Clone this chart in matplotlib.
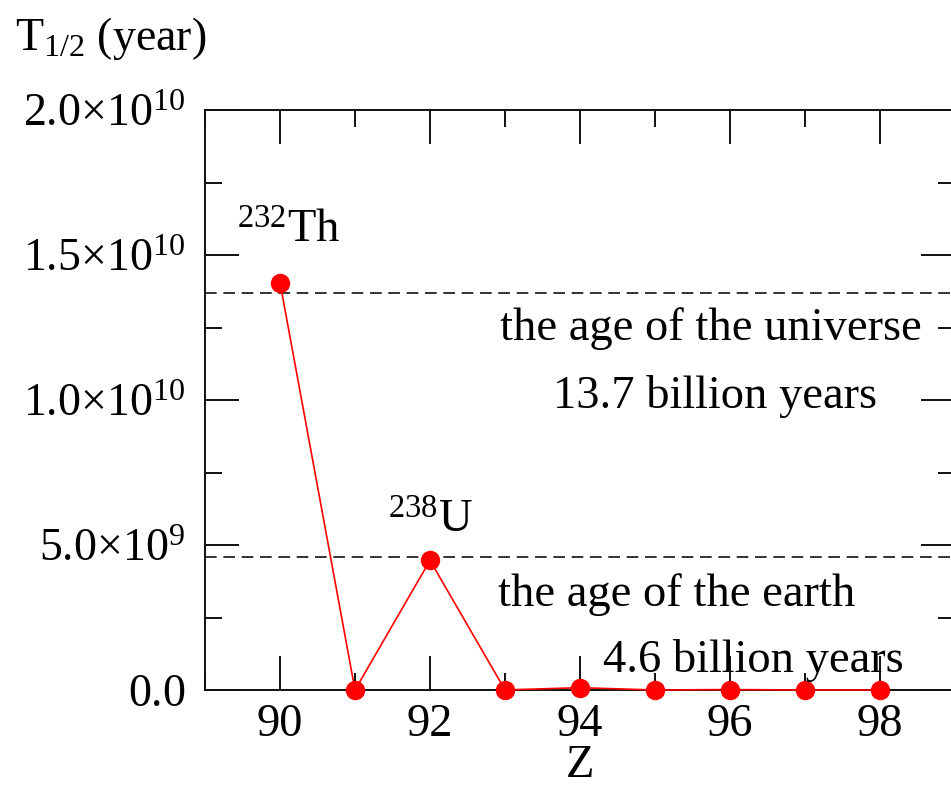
import matplotlib
matplotlib.use("Agg")
import matplotlib.pyplot as plt
from matplotlib.ticker import MultipleLocator, FixedLocator, FixedFormatter

plt.rcParams['font.family'] = ['Liberation Serif', 'DejaVu Serif']
plt.rcParams['mathtext.fontset'] = 'custom'
plt.rcParams['mathtext.rm'] = 'Liberation Serif'
plt.rcParams['mathtext.it'] = 'Liberation Serif:italic'
plt.rcParams['mathtext.bf'] = 'Liberation Serif:bold'

# Data: proton number Z and longest-lived isotope half-life (years)
Z = [90, 91, 92, 93, 94, 95, 96, 97, 98]
half_life = [1.405e10, 3.276e4, 4.468e9, 2.144e6, 8.0e7, 7.37e3, 1.56e7, 1.38e3, 8.98e2]

universe_age = 1.37e10
earth_age = 4.6e9

x_ticks = [90, 92, 94, 96, 98]
x_ticklabels = ['90', '92', '94', '96', '98']
y_ticks = [0.0, 5.0e9, 1.0e10, 1.5e10, 2.0e10]
y_ticklabels = [r'$\mathrm{0.0}$', r'$\mathrm{5.0{\times}10^{9}}$', r'$\mathrm{1.0{\times}10^{10}}$',
                r'$\mathrm{1.5{\times}10^{10}}$', r'$\mathrm{2.0{\times}10^{10}}$']

W, H = 951, 789
fig = plt.figure(figsize=(W / 100, H / 100), dpi=100)
left, right, bottom, top = 205, 955, 690, 110
ax = fig.add_axes([left / W, 1 - bottom / H, (right - left) / W, (bottom - top) / H])

ax.plot(Z, half_life, color='red', lw=1.2, marker='o', markersize=14,
        markeredgewidth=0, clip_on=False, zorder=3)
ax.axhline(universe_age, color='#111111', lw=1.2, ls=(0, (7, 4)), zorder=2)
ax.axhline(earth_age, color='#111111', lw=1.2, ls=(0, (7, 4)), zorder=2)

ax.set_xlim(89, 99)
ax.set_ylim(0, 2.0e10)

ax.xaxis.set_major_locator(FixedLocator(x_ticks))
ax.xaxis.set_major_formatter(FixedFormatter(x_ticklabels))
ax.xaxis.set_minor_locator(MultipleLocator(1))
ax.yaxis.set_major_locator(FixedLocator(y_ticks))
ax.yaxis.set_major_formatter(FixedFormatter(y_ticklabels))
ax.yaxis.set_minor_locator(MultipleLocator(2.5e9))

ax.tick_params(which='both', direction='in', top=True, right=True, width=1.4, color='#111111')
ax.tick_params(which='major', length=24.5)
ax.tick_params(which='minor', length=12.2)
ax.tick_params(axis='x', which='major', labelsize=33.5, pad=10)
ax.tick_params(axis='y', which='major', labelsize=33, pad=14)

for s in ax.spines.values():
    s.set_linewidth(1.4)
    s.set_color('#111111')

tk = dict(fontsize=33.5, va='baseline', ha='left', zorder=4)
ax.text(89.43, 1.541e10, r'$^{232}\mathrm{Th}$', **tk)
ax.text(91.44, 0.541e10, r'$^{238}\mathrm{U}$', **tk)
ax.text(92.93, 1.207e10, 'the age of the universe', **tk)
ax.text(93.64, 0.972e10, '13.7 billion years', **tk)
ax.text(92.91, 0.290e10, 'the age of the earth', **tk)
ax.text(94.31, 0.062e10, '4.6 billion years', **tk)

fig.text(15 / W, 1 - 38 / H, r'$\mathrm{T_{1/2}}$ (year)', fontsize=33, ha='left', va='center')
fig.text(580 / W, 1 - 787 / H, 'Z', fontsize=33.5, ha='center', va='bottom')

fig.savefig('out.png', dpi=100)
